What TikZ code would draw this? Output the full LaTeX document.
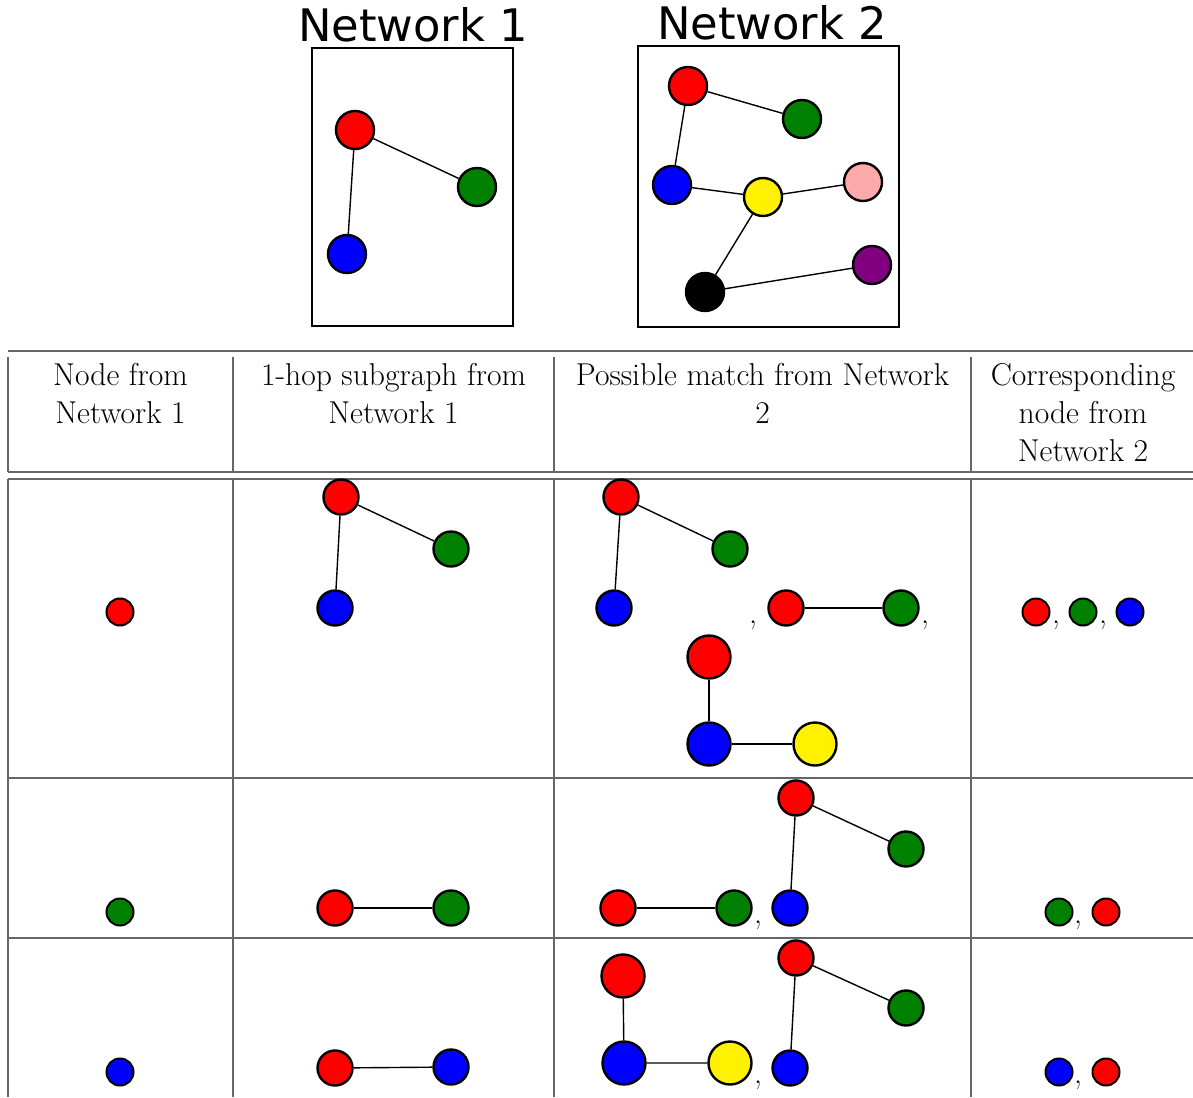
\documentclass[tikz,border=0pt]{standalone}
\usepackage{fontspec}
\usepackage{tikz}
\usetikzlibrary{positioning}
\newfontfamily\netfont{DejaVu Sans}
\definecolor{MyGreen}{RGB}{0,128,0}
\definecolor{MyPink}{RGB}{255,170,170}
\definecolor{MyPurple}{RGB}{128,0,128}
\colorlet{MyRule}{black!60}

\begin{document}
\begin{tikzpicture}[
    x=0.5pt,y=-0.5pt,
    vtx/.style={circle,draw,line width=1.2pt,inner sep=0pt,minimum size=19pt},
    sub/.style={vtx,minimum size=17.5pt},
    big/.style={vtx,minimum size=21.5pt},
    dot/.style={vtx,line width=1pt,minimum size=13.5pt},
    link/.style={line width=0.7pt},
    rule/.style={MyRule,line width=0.9pt},
    head/.style={align=center,anchor=north,inner sep=0pt,font=\fontsize{15.8}{19}\selectfont},
    sep/.style={anchor=base,inner sep=0pt,font=\fontsize{15.8}{19}\selectfont},
    title/.style={anchor=base,inner sep=0pt,font=\netfont\fontsize{22.4}{26}\selectfont}
    ]
    \useasboundingbox (0,0) rectangle (1193,1097);

    \node[title] (title1) at (413,42) {Network 1};
    \node[title] (title2) at (772,40) {Network 2};
    \draw[line width=1.2pt] (312,48) rectangle (513,326);
    \draw[line width=1.2pt] (638,46) rectangle (899,327);

    \node[vtx,fill=red] (oneR) at (355,130) {};
    \node[vtx,fill=MyGreen] (oneG) at (477,187) {};
    \node[vtx,fill=blue] (oneB) at (347,254) {};
    \draw[link] (oneR) -- (oneG) (oneR) -- (oneB);

    \node[vtx,fill=red] (twoR) at (688,86) {};
    \node[vtx,fill=MyGreen] (twoG) at (802,119) {};
    \node[vtx,fill=blue] (twoB) at (672,185) {};
    \node[vtx,fill=yellow] (twoY) at (763,197) {};
    \node[vtx,fill=MyPink] (twoP) at (863,182) {};
    \node[vtx,fill=MyPurple] (twoV) at (872,265) {};
    \node[vtx,fill=black] (twoK) at (705,292) {};
    \draw[link] (twoR) -- (twoG) (twoR) -- (twoB) (twoB) -- (twoY) (twoY) -- (twoP) (twoY) -- (twoK) (twoK) -- (twoV);

    \draw[rule] (8,351) -- (1193,351);
    \draw[rule] (8,472) -- (1193,472);
    \draw[rule] (8,479) -- (1193,479);
    \draw[rule] (8,778) -- (1193,778);
    \draw[rule] (8,938) -- (1193,938);
    \foreach \x in {8,233,554,971} {
        \draw[rule] (\x,357) -- (\x,472);
        \draw[rule] (\x,479) -- (\x,1097);
    }

    \node[head] (headA) at (120.5,363) {Node from\\Network 1};
    \node[head] (headB) at (393.5,363) {1-hop subgraph from\\Network 1};
    \node[head] (headC) at (762.5,363) {Possible match from Network\\2};
    \node[head] (headD) at (1083,363) {Corresponding\\node from\\Network 2};

    \node[dot,fill=red] (rowaA) at (120,612) {};
    \node[sub,fill=red] (rowaR) at (341,497) {};
    \node[sub,fill=MyGreen] (rowaG) at (451,549) {};
    \node[sub,fill=blue] (rowaB) at (335,608) {};
    \draw[link] (rowaR) -- (rowaG) (rowaR) -- (rowaB);
    \node[sub,fill=red] (matchaR) at (621,497) {};
    \node[sub,fill=MyGreen] (matchaG) at (730,549) {};
    \node[sub,fill=blue] (matchaB) at (614,608) {};
    \draw[link] (matchaR) -- (matchaG) (matchaR) -- (matchaB);
    \node[sep] (commaa1) at (753,623) {,};
    \node[sub,fill=red] (pairaR) at (786,608) {};
    \node[sub,fill=MyGreen] (pairaG) at (901,608) {};
    \draw[link] (pairaR) -- (pairaG);
    \node[sep] (commaa2) at (925,623) {,};
    \node[big,fill=red] (triaR) at (709,657) {};
    \node[big,fill=blue] (triaB) at (709,744) {};
    \node[big,fill=yellow] (triaY) at (815,744) {};
    \draw[link] (triaR) -- (triaB) (triaB) -- (triaY);
    \node[dot,fill=red] (corraR) at (1036,612) {};
    \node[sep] (commaa3) at (1056,623) {,};
    \node[dot,fill=MyGreen] (corraG) at (1083,612) {};
    \node[sep] (commaa4) at (1103,623) {,};
    \node[dot,fill=blue] (corraB) at (1130,612) {};

    \node[dot,fill=MyGreen] (rowbA) at (120,912) {};
    \node[sub,fill=red] (rowbR) at (335,908) {};
    \node[sub,fill=MyGreen] (rowbG) at (451,908) {};
    \draw[link] (rowbR) -- (rowbG);
    \node[sub,fill=red] (pairbR) at (618,908) {};
    \node[sub,fill=MyGreen] (pairbG) at (734,908) {};
    \draw[link] (pairbR) -- (pairbG);
    \node[sep] (commab1) at (758,923) {,};
    \node[sub,fill=red] (matchbR) at (796,798) {};
    \node[sub,fill=MyGreen] (matchbG) at (906,849) {};
    \node[sub,fill=blue] (matchbB) at (790,908) {};
    \draw[link] (matchbR) -- (matchbG) (matchbR) -- (matchbB);
    \node[dot,fill=MyGreen] (corrbG) at (1059,912) {};
    \node[sep] (commab2) at (1078,923) {,};
    \node[dot,fill=red] (corrbR) at (1106,912) {};

    \node[dot,fill=blue] (rowcA) at (120,1072) {};
    \node[sub,fill=red] (rowcR) at (335,1068) {};
    \node[sub,fill=blue] (rowcB) at (451,1067) {};
    \draw[link] (rowcR) -- (rowcB);
    \node[big,fill=red] (tricR) at (623,976) {};
    \node[big,fill=blue] (tricB) at (624,1063) {};
    \node[big,fill=yellow] (tricY) at (730,1063) {};
    \draw[link] (tricR) -- (tricB) (tricB) -- (tricY);
    \node[sep] (commac1) at (758,1083) {,};
    \node[sub,fill=red] (matchcR) at (796,958) {};
    \node[sub,fill=MyGreen] (matchcG) at (906,1008) {};
    \node[sub,fill=blue] (matchcB) at (790,1068) {};
    \draw[link] (matchcR) -- (matchcG) (matchcR) -- (matchcB);
    \node[dot,fill=blue] (corrcB) at (1059,1072) {};
    \node[sep] (commac2) at (1078,1083) {,};
    \node[dot,fill=red] (corrcR) at (1106,1072) {};
\end{tikzpicture}
\end{document}
